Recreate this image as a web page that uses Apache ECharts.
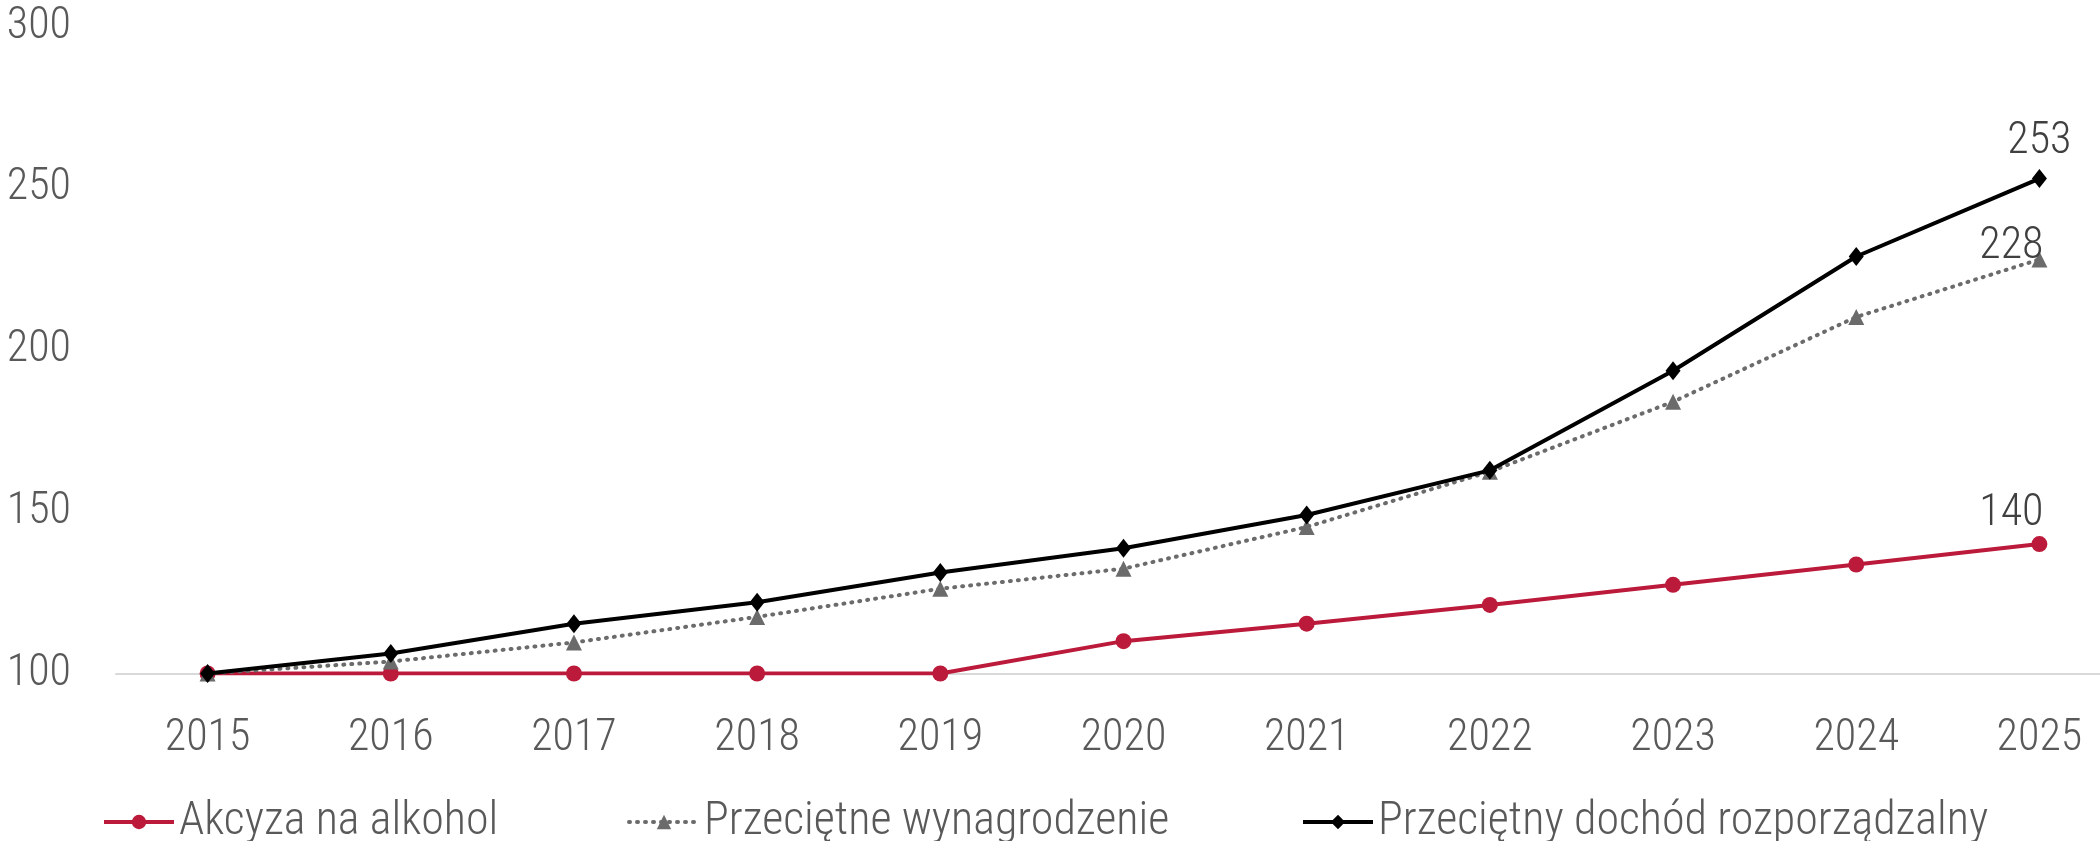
<!DOCTYPE html>
<html>
<head>
<meta charset="utf-8">
<script src="https://cdn.jsdelivr.net/npm/echarts@6/dist/echarts.min.js"></script>
<style>
  html, body { margin: 0; padding: 0; background: #fff; }
  #chart { width: 2100px; height: 841px; }
</style>
</head>
<body>
<div id="chart"></div>
<script>
// dane wykresu (2015 = 100)
const lata = ['2015', '2016', '2017', '2018', '2019', '2020', '2021', '2022', '2023', '2024', '2025'];
const akcyza = [100, 100, 100, 100, 100, 110, 115.4, 121.2, 127.4, 133.7, 140];
const wynagrodzenie = [100, 103.7, 109.6, 117.5, 126.2, 132.4, 145.3, 162.4, 184, 210.2, 228];
const dochod = [100, 106.2, 115.4, 122, 131.2, 138.7, 149, 162.8, 193.6, 228.9, 253];
const nazwy = ['Akcyza na alkohol', 'Przeciętne wynagrodzenie', 'Przeciętny dochód rozporządzalny'];

const FONT = "'Roboto Condensed', 'Liberation Sans Narrow', 'DejaVu Sans Condensed', Roboto, sans-serif";
const SZARY_TEKST = '#595959';

const myChart = echarts.init(document.getElementById('chart'));

// etykieta tylko na ostatnim punkcie
function ostatniaEtykieta(offset) {
    return {
        show: true,
        position: 'top',
        offset: offset,
        fontFamily: FONT,
        fontSize: 44,
        fontWeight: 300,
        color: '#404040',
        formatter: p => (p.dataIndex === lata.length - 1 ? Math.round(p.value) : '')
    };
}

function legenda(nazwa, left) {
    return {
        data: [nazwa],
        left: left,
        top: 799,
        padding: 0,
        itemWidth: 70,
        itemHeight: 18,
        itemGap: 0,
        lineStyle: {width: 4},
        textStyle: {fontFamily: FONT, fontSize: 46, fontWeight: 300, color: SZARY_TEKST}
    };
}

let option = {
    animation: false,
    backgroundColor: '#fff',
    grid: {
        left: 116,
        top: 26.5,
        width: 2015,
        bottom: 167.5,
        outerBoundsMode: 'none'
    },
    legend: [
        legenda(nazwy[0], 102),
        legenda(nazwy[1], 627),
        legenda(nazwy[2], 1301)
    ],
    xAxis: {
        type: 'category',
        data: lata,
        boundaryGap: true,
        axisTick: {show: false},
        axisLine: {lineStyle: {color: '#d9d9d9', width: 2}},
        axisLabel: {fontFamily: FONT, fontSize: 44, fontWeight: 300, color: SZARY_TEKST, margin: 43}
    },
    yAxis: {
        type: 'value',
        min: 100,
        max: 300,
        interval: 50,
        axisLine: {show: false},
        axisTick: {show: false},
        splitLine: {show: false},
        axisLabel: {fontFamily: FONT, fontSize: 44, fontWeight: 300, color: SZARY_TEKST, margin: 45}
    },
    series: [
        {
            name: nazwy[0],
            type: 'line',
            data: akcyza,
            color: '#bb1a3a',
            symbol: 'circle',
            symbolSize: 16,
            z: 2,
            lineStyle: {width: 4, color: '#bb1a3a'},
            itemStyle: {color: '#bb1a3a'},
            label: ostatniaEtykieta([-28, 5])
        },
        {
            name: nazwy[1],
            type: 'line',
            data: wynagrodzenie,
            color: '#6b6b6b',
            symbol: 'triangle',
            symbolSize: 16,
            z: 3,
            lineStyle: {width: 4, color: '#6b6b6b', type: [1, 7], cap: 'round'},
            itemStyle: {color: '#6b6b6b'},
            label: ostatniaEtykieta([-28, 23])
        },
        {
            name: nazwy[2],
            type: 'line',
            data: dochod,
            color: '#000',
            symbol: 'diamond',
            symbolSize: [15, 19],
            z: 4,
            lineStyle: {width: 4, color: '#000'},
            itemStyle: {color: '#000'},
            label: ostatniaEtykieta([0, 0])
        }
    ]
};

myChart.setOption(option);
</script>
</body>
</html>
